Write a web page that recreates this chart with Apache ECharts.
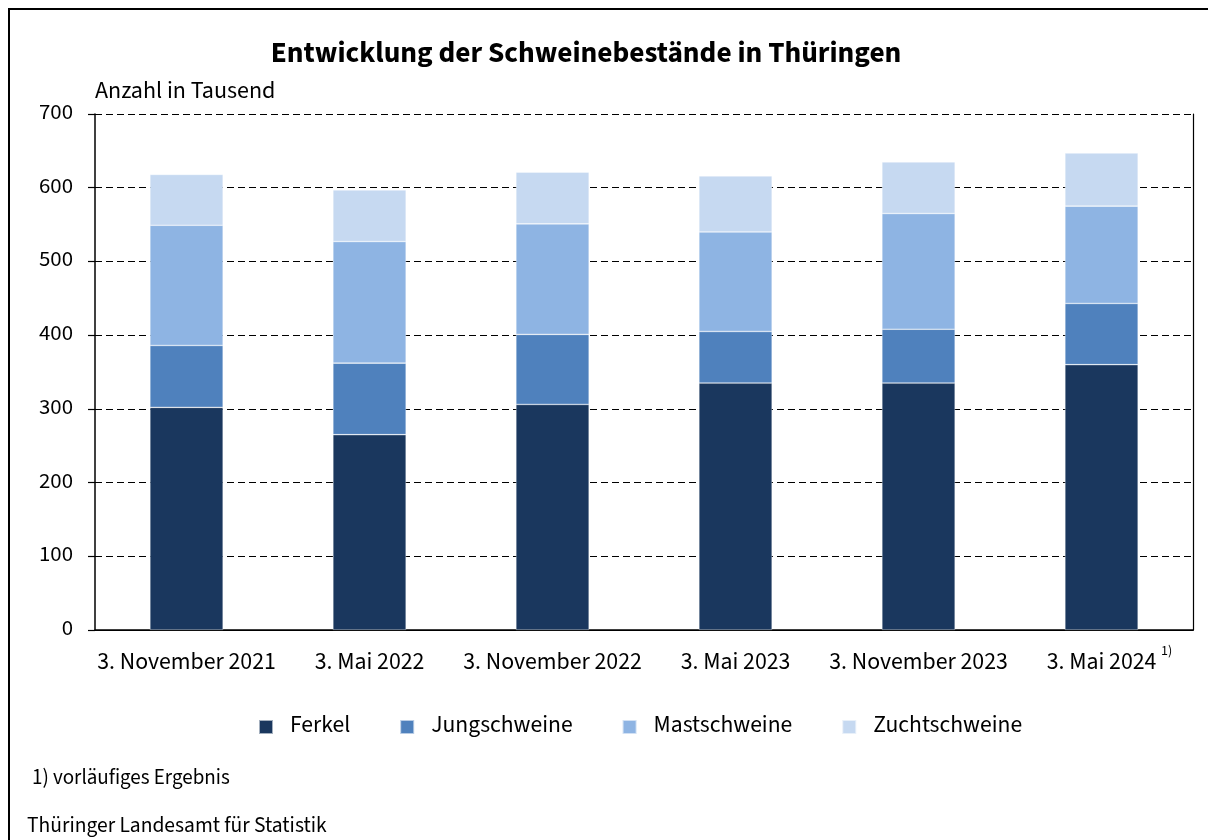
<!DOCTYPE html>
<html><head><meta charset="utf-8">
<script src="https://cdn.jsdelivr.net/npm/echarts@6/dist/echarts.min.js"></script>
<style>html,body{margin:0;padding:0;background:#fff}#c{width:1208px;height:840px}</style>
</head><body><div id="c"></div>
<script>
const categories = ['3. November 2021','3. Mai 2022','3. November 2022','3. Mai 2023','3. November 2023','3. Mai 2024'];
const ferkel = [302, 265, 306, 335, 335, 360];
const jungschweine = [84, 97, 95, 70, 73, 83];
const mastschweine = [163, 165, 150, 135, 157, 132];
const zuchtschweine = [69, 70, 70, 76, 70, 72];
const yTicks = [0,100,200,300,400,500,600,700];

const FONT = '"Source Sans Pro","Source Sans 3","Lato","Noto Sans",sans-serif';
const chart = echarts.init(document.getElementById('c'), null, {renderer:'canvas'});
const mk = (name, data, color) => ({
  name, type:'bar', stack:'s', data, barWidth:'40%',
  itemStyle:{color, borderColor:'rgba(255,255,255,0.6)', borderWidth:0.6},
  xAxisIndex:0, yAxisIndex:0
});
chart.setOption({
  animation:false,
  textStyle:{fontFamily:FONT, color:'#000'},
  title:{text:'Entwicklung der Schweinebestände in Thüringen', left:581, textAlign:'center', top:36,
    textStyle:{fontFamily:FONT, fontWeight:'bold', fontSize:29.3, color:'#000'}},
  grid:{left:95, right:15, top:114, bottom:210, containLabel:false},
  legend:{bottom:96, left:253, itemWidth:14, itemHeight:14, itemGap:49, icon:'rect',
    textStyle:{fontFamily:FONT, fontSize:23.6, color:'#000', padding:[0,0,0,12]},
    data:['Ferkel','Jungschweine','Mastschweine','Zuchtschweine']},
  xAxis:[
    {type:'category', data:categories, position:'bottom',
     axisLine:{lineStyle:{color:'#000', width:1.5}}, axisTick:{show:false},
     axisLabel:{fontFamily:FONT, fontSize:23.8, color:'#000', margin:22, interval:0, hideOverlap:false}},
    {type:'category', data:categories, position:'top',
     axisLine:{show:true, lineStyle:{color:'#000', width:1.2}}, axisTick:{show:false}, axisLabel:{show:false}}
  ],
  yAxis:[
    {type:'value', min:0, max:700, interval:100, position:'left',
     name:'Anzahl in Tausend', nameLocation:'end', nameGap:9,
     nameTextStyle:{fontFamily:FONT, fontSize:24, color:'#000', align:'left', padding:[0,0,0,0]},
     axisLine:{show:true, lineStyle:{color:'#000', width:1.5}},
     axisTick:{show:true, length:7, lineStyle:{color:'#000', width:1.2}},
     axisLabel:{fontFamily:FONT, fontSize:22.8, color:'#000', margin:22,
       formatter:v => yTicks.includes(v) ? String(v) : ''},
     splitLine:{show:true, lineStyle:{color:'#000', type:[7,4], width:1.2}}},
    {type:'value', min:0, max:700, interval:100, position:'right',
     axisLine:{show:true, lineStyle:{color:'#000', width:1.2}}, axisTick:{show:false},
     axisLabel:{show:false}, splitLine:{show:false}}
  ],
  series:[
    mk('Ferkel', ferkel, '#1a375e'),
    mk('Jungschweine', jungschweine, '#4f81bd'),
    mk('Mastschweine', mastschweine, '#8eb4e3'),
    mk('Zuchtschweine', zuchtschweine, '#c6d9f1')
  ],
  graphic:[
    {type:'rect', shape:{x:9, y:9, width:1220, height:860}, style:{fill:'none', stroke:'#000', lineWidth:2}, silent:true},
    {type:'text', left:1161, top:645, style:{text:'1)', font:'14px '+FONT, fill:'#000'}},
    {type:'text', left:32, top:769, style:{text:'1) vorläufiges Ergebnis', font:'21px '+FONT, fill:'#000'}},
    {type:'text', left:27, top:816, style:{text:'Thüringer Landesamt für Statistik', font:'21.5px '+FONT, fill:'#000'}}
  ]
});
</script></body></html>
